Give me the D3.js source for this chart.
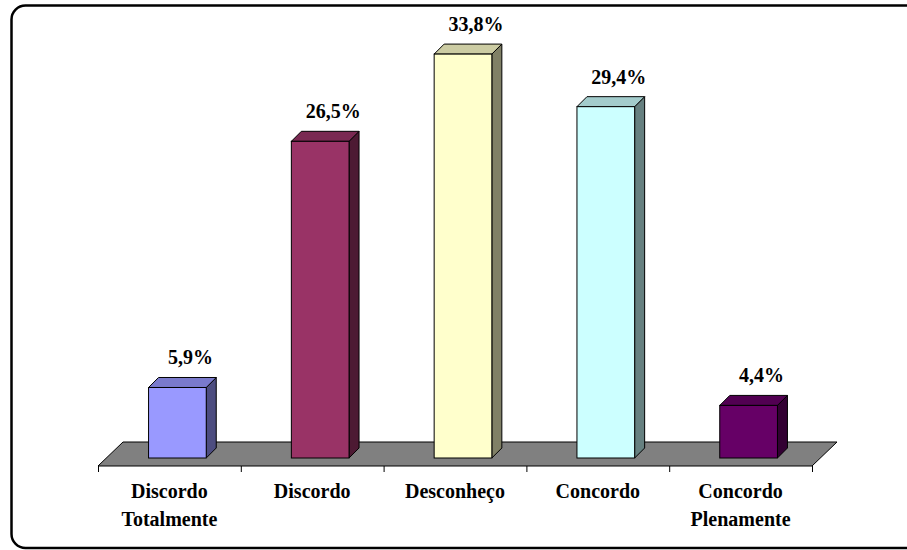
<!DOCTYPE html>
<html>
<head>
<meta charset="utf-8">
<script src="https://cdn.jsdelivr.net/npm/d3@7/dist/d3.min.js"></script>
<style>
  html, body { margin: 0; padding: 0; background: #ffffff; }
  svg { display: block; }
</style>
</head>
<body>
<svg id="chart" width="907" height="550"></svg>
<script>
// Survey answers and their shares (%)
const categories = ["Discordo Totalmente", "Discordo", "Desconheço", "Concordo", "Concordo Plenamente"];
const categoryLines = [["Discordo", "Totalmente"], ["Discordo"], ["Desconheço"], ["Concordo"], ["Concordo", "Plenamente"]];
const values = [5.9, 26.5, 33.8, 29.4, 4.4];
const frontColors = ["#9999FF", "#993366", "#FFFFCC", "#CCFFFF", "#660066"];

const FONT = "'Liberation Serif', 'Times New Roman', Times, serif";

const svg = d3.select("#chart");

// Outer rounded frame (right side runs past the window edge)
svg.append("rect")
  .attr("x", 11.5).attr("y", 5.5)
  .attr("width", 920).attr("height", 542.5)
  .attr("rx", 14).attr("ry", 14)
  .attr("fill", "#fff").attr("stroke", "#000").attr("stroke-width", 2.5);

// Plot geometry (oblique 3D projection)
const left = 98, right = 812;
const floorFrontY = 466;
const depth = { dx: 25, dy: -24 };        // full floor depth
const barFront = { dx: 8, dy: -8 };        // bar front face offset into the floor
const barDepth = { dx: 10, dy: -10 };      // bar depth
const baseY = floorFrontY + barFront.dy;   // bar bottom on the front face

const x = d3.scaleBand().domain(categories).range([left, right]).padding(0);
const barW = x.bandwidth() * 0.404;
const y = d3.scaleLinear().domain([0, 40]).range([baseY, baseY - 40 * 11.95]);

const fmt = d3.formatLocale({ decimal: ",", thousands: ".", grouping: [3], currency: ["", ""] }).format(".1f");

// Floor
svg.append("path")
  .attr("d", `M${left},${floorFrontY} L${right},${floorFrontY} L${right + depth.dx},${floorFrontY + depth.dy} L${left + depth.dx},${floorFrontY + depth.dy} Z`)
  .attr("fill", "#808080").attr("stroke", "#000").attr("stroke-width", 1);

// Category ticks on the floor's front edge
const tickScale = d3.scaleLinear().domain([0, categories.length]).range([left, right]);
svg.append("g")
  .attr("transform", `translate(0,${floorFrontY})`)
  .call(d3.axisBottom(tickScale).ticks(categories.length).tickSize(6).tickSizeOuter(0).tickFormat(""))
  .call(g => g.select(".domain").remove())
  .call(g => g.selectAll("line").attr("stroke", "#000").attr("stroke-width", 1));

// Bars
const shade = (c, k) => { const r = d3.rgb(c); return d3.rgb(r.r * k, r.g * k, r.b * k).formatHex(); };

const bars = svg.append("g").selectAll("g").data(categories).join("g");
bars.each(function(cat, i) {
  const g = d3.select(this);
  const x0 = x(cat) + (x.bandwidth() - barW) / 2 + barFront.dx;
  const x1 = x0 + barW;
  const yTop = y(values[i]);
  const yBot = y(0);
  const ddx = barDepth.dx, ddy = barDepth.dy;
  // side face
  g.append("path")
    .attr("d", `M${x1},${yBot} L${x1 + ddx},${yBot + ddy} L${x1 + ddx},${yTop + ddy} L${x1},${yTop} Z`)
    .attr("fill", shade(frontColors[i], 0.5)).attr("stroke", "#000").attr("stroke-width", 1).attr("stroke-linejoin", "round");
  // top face
  g.append("path")
    .attr("d", `M${x0},${yTop} L${x1},${yTop} L${x1 + ddx},${yTop + ddy} L${x0 + ddx},${yTop + ddy} Z`)
    .attr("fill", shade(frontColors[i], 0.8)).attr("stroke", "#000").attr("stroke-width", 1).attr("stroke-linejoin", "round");
  // front face
  g.append("rect")
    .attr("x", x0).attr("y", yTop).attr("width", barW).attr("height", yBot - yTop)
    .attr("fill", frontColors[i]).attr("stroke", "#000").attr("stroke-width", 1);
  // value label
  g.append("text")
    .attr("x", x0 + barW / 2 + 13).attr("y", yTop - 23)
    .attr("text-anchor", "middle")
    .attr("font-family", FONT).attr("font-weight", "bold").attr("font-size", 20)
    .attr("fill", "#000")
    .text(fmt(values[i]) + "%");
});

// Category labels
svg.append("g").selectAll("text").data(categories).join("text")
  .attr("x", d => x(d) + x.bandwidth() / 2)
  .attr("y", 498)
  .attr("text-anchor", "middle")
  .attr("font-family", FONT).attr("font-weight", "bold").attr("font-size", 20)
  .attr("fill", "#000")
  .each(function(d, i) {
    d3.select(this).selectAll("tspan").data(categoryLines[i]).join("tspan")
      .attr("x", x(d) + x.bandwidth() / 2)
      .attr("dy", (t, j) => j === 0 ? 0 : 28)
      .text(t => t);
  });
</script>
</body>
</html>
